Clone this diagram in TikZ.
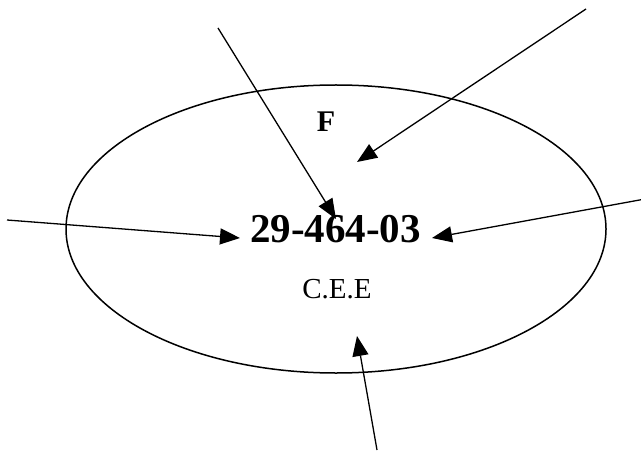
\documentclass[tikz,border=0pt]{standalone}
\usepackage{fontspec}
\setmainfont{Liberation Serif}
\usetikzlibrary{arrows.meta,shapes.geometric}
\tikzset{
  ring/.style={draw, ellipse, line width=0.75pt, inner sep=0pt,
    minimum width=270pt, minimum height=144pt},
  tag/.style={anchor=base, inner sep=0pt},
  ptr/.style={-{Triangle[length=10pt, width=8pt]}, line width=0.65pt},
}

\begin{document}
\begin{tikzpicture}[x=0.5pt, y=-0.5pt]
    \useasboundingbox (0,0) rectangle (641,454);
    % outline and its texts
    \node[ring] (ring) at (336,229) {};
    \node[tag, font=\fontsize{15}{18}\selectfont\bfseries] (f) at (326,132) {F};
    \node[tag, font=\fontsize{20.5}{24}\selectfont\bfseries] (code) at (335.5,242) {29-464-03};
    \node[tag, font=\fontsize{14.5}{17}\selectfont] (cee) at (337,298) {C.E.E};
    % free ends and tips
    \coordinate (nw) at (218,28);
    \coordinate (nwtip) at (336,219);
    \coordinate (ne) at (586,9);
    \coordinate (netip) at (357,162);
    \coordinate (w) at (7,220);
    \coordinate (wtip) at (240,238);
    \coordinate (e) at (645,199);
    \coordinate (etip) at (432,238);
    \coordinate (s) at (377,450);
    \coordinate (stip) at (357,336);
    % arrows
    \draw[ptr] (nw) -- (nwtip);
    \draw[ptr] (ne) -- (netip);
    \draw[ptr] (w) -- (wtip);
    \draw[ptr] (e) -- (etip);
    \draw[ptr] (s) -- (stip);
\end{tikzpicture}
\end{document}
